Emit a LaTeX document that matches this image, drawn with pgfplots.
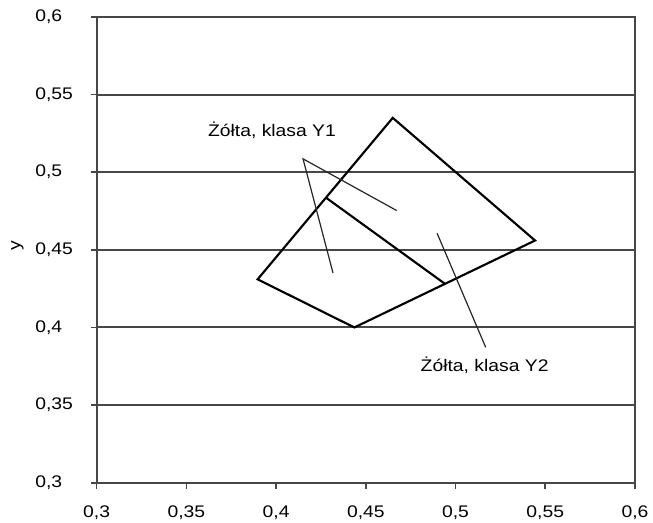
\documentclass[border=0pt]{standalone}
\usepackage{fontspec}
\setmainfont{Liberation Sans}[FakeStretch=1.15]
\usepackage{pgfplots}
\pgfplotsset{compat=1.18}
\begin{document}
\begin{tikzpicture}
\begin{axis}[
  scale only axis, width=403.7pt, height=349.3pt,
  xmin=0.3, xmax=0.6, ymin=0.3, ymax=0.6,
  xtick={0.3,0.35,0.4,0.45,0.5,0.55,0.6},
  ytick={0.3,0.35,0.4,0.45,0.5,0.55,0.6},
  xtick pos=left, ytick pos=left,
  tick align=outside,
  major tick length=4.5pt,
  ymajorgrids,
  grid style={line width=1.5pt, color=black!72},
  axis line style={line width=1.5pt, color=black!72},
  tick style={line width=1.2pt, color=black!72},
  tick label style={font=\fontsize{12.6}{14}\selectfont},
  yticklabel style={text width=28pt, align=left, anchor=east, xshift=-10pt},
  xticklabel style={yshift=-9pt},
  /pgf/number format/.cd, use comma, fixed, precision=2, assume math mode=true,
  /pgfplots/.cd,
  ylabel={y},
  ylabel style={font=\fontsize{12.6}{14}\selectfont, at={(axis description cs:-0.147,0.51)}, anchor=center},
  clip=false,
]
% polygon outline
\addplot[line width=1.6pt, black, line join=miter] coordinates {
  (0.3897,0.431) (0.465,0.535) (0.5443,0.456) (0.4436,0.4)
} -- cycle;
% dividing line
\addplot[line width=1.6pt, black] coordinates {(0.4278,0.4836) (0.4941,0.4281)};
% leader lines
\addplot[line width=0.9pt, black!85] coordinates {(0.4672,0.4753) (0.415,0.5086) (0.4317,0.4351)};
\addplot[line width=0.9pt, black!85] coordinates {(0.4897,0.4607) (0.5168,0.3872)};
\node[font=\fontsize{12.6}{14}\selectfont] at (axis cs:0.3977,0.5273) {Żółta, klasa Y1};
\node[font=\fontsize{12.6}{14}\selectfont] at (axis cs:0.5162,0.3758) {Żółta, klasa Y2};
\end{axis}
\pgfresetboundingbox
\path[use as bounding box] (-72.5pt,-29.5pt) rectangle (417.2pt,362pt);
\end{tikzpicture}
\end{document}
